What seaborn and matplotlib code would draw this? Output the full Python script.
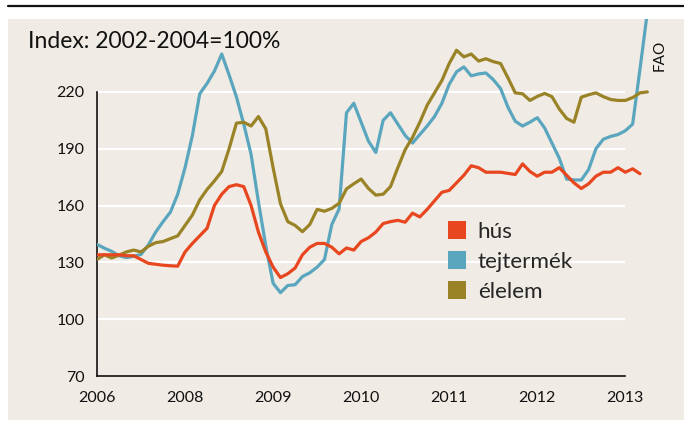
import numpy as np
import pandas as pd
import matplotlib
matplotlib.use("Agg")
import matplotlib.pyplot as plt
import seaborn as sns
from matplotlib.patches import Rectangle, Patch
from matplotlib.lines import Line2D

# FAO price indices, monthly from Jan 2007 (2002-2004 = 100)
hus = [134, 134, 134, 134, 133.5, 133.5, 131.5, 129.5, 129, 128.5, 128.2, 128,
       135.5, 140, 144, 148, 160, 166, 170, 171, 170, 160, 146, 135.5,
       127.5, 122, 124, 127, 134, 138, 140, 140, 138, 134.5, 137.6, 136.5,
       141, 143, 146, 150.5, 151.5, 152.2, 151.2, 156, 154, 158, 162.5, 167,
       168, 172, 176, 181, 180, 177.6, 177.6, 177.6, 177, 176.4, 182, 178,
       175.5, 177.6, 177.6, 180, 176, 172, 169, 171.5, 175.5, 177.6, 177.6, 180,
       177.6, 179.4, 176.8]
tejtermek = [139.5, 137.5, 135.8, 133.5, 132.5, 133.2, 134.2, 139.2, 146, 151.5, 156.5, 166,
             180, 197, 219, 224.5, 231, 240, 229, 217.4, 203, 187, 162, 138.8,
             119, 114, 117.8, 118.2, 122.5, 124.5, 127.5, 131.5, 150, 158.2, 209, 214,
             204, 194, 188, 205, 209, 203, 197, 193, 197.5, 202, 207, 214,
             224, 230.6, 233.2, 228.5, 229.5, 230, 226.5, 221.8, 212, 204.5, 202, 204,
             206.4, 201, 193, 185, 174, 173.5, 173.5, 179, 190, 195, 196.5, 197.5,
             199.5, 203, 232, 262]
elelem = [131.5, 134, 132.3, 133.8, 135.5, 136.5, 135.5, 138.5, 140.4, 141, 142.5, 144,
          149.5, 155, 163, 168.5, 173, 178, 190, 203.5, 204, 202, 207, 200.5,
          180, 161, 151.5, 149.5, 146.2, 150, 158, 157, 158.5, 161.2, 168.8, 171.5,
          174, 169, 165.5, 166, 170, 180, 189.5, 196, 204, 213, 219.5, 226,
          235, 242, 238.5, 240, 236.3, 237.5, 236, 235, 227.5, 219.5, 219, 215.5,
          217.6, 219.2, 217.5, 211, 206, 204, 217.2, 218.5, 219.5, 217.5, 216, 215.5,
          215.5, 217, 219.5, 220]

year_labels = ["2006", "2008", "2009", "2010", "2011", "2012", "2013"]
y_ticks = [70, 100, 130, 160, 190, 220]

names = ["hús", "tejtermék", "élelem"]
colors = {"hús": "#e8461e", "tejtermék": "#5aa6bf", "élelem": "#9a8327"}

frames = []
for name, vals in [("tejtermék", tejtermek), ("élelem", elelem), ("hús", hus)]:
    frames.append(pd.DataFrame({"month": np.arange(len(vals)), "value": vals, "series": name}))

sns.set_style("white")
plt.rcParams["font.family"] = ["Lato", "DejaVu Sans"]

fig = plt.figure(figsize=(6.84, 4.26), dpi=100)
bg = "#f0ebe4"
fig.patches.append(Rectangle((8 / 684, 6 / 426), 676 / 684, 401 / 426,
                             transform=fig.transFigure, facecolor=bg, edgecolor="none", zorder=-10))
fig.lines.append(Line2D([8 / 684, 1], [420 / 426, 420 / 426], transform=fig.transFigure,
                        color="#111111", linewidth=1.6))

ax = fig.add_axes([97 / 684, 50 / 426, 587 / 684, 357 / 426])
ax.set_facecolor("none")

ax.hlines(y_ticks[1:], 0, 72, color="white", linewidth=1.6, zorder=1)

for df in frames:
    name = df["series"].iloc[0]
    sns.lineplot(data=df, x="month", y="value", color=colors[name], linewidth=2.3,
                 ax=ax, legend=False, zorder=3)

ax.set_xlim(0, 80)
ax.set_ylim(70, 258.5)
ax.set_xticks(np.arange(0, 73, 12))
ax.set_xticklabels(year_labels)
ax.set_yticks(y_ticks)
ax.set_xlabel("")
ax.set_ylabel("")
ax.tick_params(axis="x", direction="in", length=6, width=1.2, pad=11, labelsize=11.5, colors="#111111")
ax.tick_params(axis="y", direction="out", length=6, width=1.2, pad=3, labelsize=11.5, colors="#111111")
sns.despine(ax=ax, top=True, right=True)
ax.spines["left"].set_bounds(70, 220)
ax.spines["bottom"].set_bounds(0, 72)
for s in ["left", "bottom"]:
    ax.spines[s].set_linewidth(1.2)
    ax.spines[s].set_color("#111111")

fig.text(28 / 684, 1 - 42 / 426, "Index: 2002-2004=100%", fontsize=16.5, va="center", ha="left",
         color="#111111")
fig.text(660 / 684, 1 - 55 / 426, "FAO", rotation=90, fontsize=11, va="center", ha="center",
         color="#111111")

handles = [Patch(facecolor=colors[n], edgecolor="none") for n in names]
ax.legend(handles, names, loc="upper left", bbox_to_anchor=(448 / 684, 1 - 221 / 426),
          bbox_transform=fig.transFigure, frameon=False, fontsize=16.2,
          handlelength=0.82, handleheight=0.82, handletextpad=0.5, labelspacing=0.42,
          borderpad=0, borderaxespad=0)

fig.savefig("out.png", dpi=100)
